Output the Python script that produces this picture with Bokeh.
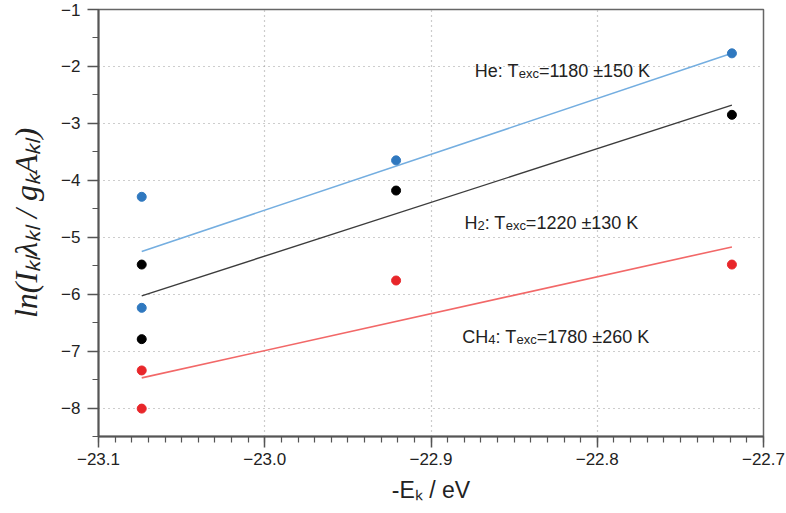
from bokeh.plotting import figure
from bokeh.models import FixedTicker, Label, Range1d
from bokeh.embed import file_html
from bokeh.resources import INLINE

# ---------------- data ----------------
he_x = [-23.074, -23.074, -22.921, -22.719]
he_y = [-4.29, -6.24, -3.65, -1.77]
h2_x = [-23.074, -23.074, -22.921, -22.719]
h2_y = [-5.48, -6.79, -4.18, -2.85]
ch4_x = [-23.074, -23.074, -22.921, -22.719]
ch4_y = [-7.34, -8.01, -5.76, -5.48]

fit_x = [-23.074, -22.719]
he_fit_y = [-5.25, -1.77]
h2_fit_y = [-6.03, -2.68]
ch4_fit_y = [-7.47, -5.17]

x_ticks = [-23.1, -23.0, -22.9, -22.8, -22.7]
x_tick_labels = ["\u221223.1", "\u221223.0", "\u221222.9", "\u221222.8", "\u221222.7"]
y_ticks = [-8, -7, -6, -5, -4, -3, -2, -1]
y_tick_labels = ["\u22128", "\u22127", "\u22126", "\u22125", "\u22124", "\u22123", "\u22122", "\u22121"]

x_title = "-E\u2096 / eV"
y_title = "ln(I\u2096\u2097\u03bb\u2096\u2097 / g\u2096A\u2096\u2097)"

he_label = ["He: T", "exc", "=1180 \u00b1150 K"]
h2_label = ["H", "2", ": T", "exc", "=1220 \u00b1130 K"]
ch4_label = ["CH", "4", ": T", "exc", "=1780 \u00b1260 K"]

# ---------------- font metrics helper (layout only) ----------------
ARIAL = {' ': 278, ':': 278, '=': 584, '\u00b1': 584, 'H': 722, 'C': 722, 'e': 556,
         'T': 611, 'x': 500, 'c': 500, 'K': 667, '.': 278}
for d in "0123456789":
    ARIAL[d] = 556


def width(s, size):
    return sum(ARIAL.get(ch, 556) for ch in s) * size / 1000.0


SANS = "Liberation Sans"
SERIF = "Liberation Serif"
TXT = "#222222"

p = figure(frame_width=665, frame_height=427,
           x_range=Range1d(-23.1, -22.7), y_range=Range1d(-8.5, -1.0),
           output_backend="svg", toolbar_location=None,
           min_border_left=98, min_border_right=23, min_border_top=9, min_border_bottom=77)

p.background_fill_color = "white"
p.border_fill_color = "white"
p.outline_line_color = "#666666"
p.outline_line_width = 1.5

p.xaxis.ticker = FixedTicker(ticks=x_ticks,
                             minor_ticks=[round(-23.1 + 0.01 * i, 3) for i in range(41)])
p.yaxis.ticker = FixedTicker(ticks=y_ticks,
                             minor_ticks=[-8.5 + 0.5 * i for i in range(16)])
p.xaxis.major_label_overrides = dict(zip(x_ticks, x_tick_labels))
p.yaxis.major_label_overrides = dict(zip(y_ticks, y_tick_labels))

for ax in list(p.xaxis) + list(p.yaxis):
    ax.axis_line_color = "#555555"
    ax.axis_line_width = 2
    ax.major_tick_line_color = "#555555"
    ax.major_tick_line_width = 1.5
    ax.major_tick_out = 11
    ax.major_tick_in = 0
    ax.minor_tick_line_color = "#555555"
    ax.minor_tick_line_width = 1.2
    ax.minor_tick_out = 6
    ax.minor_tick_in = 0
    ax.major_label_text_font = SANS
    ax.major_label_text_font_size = "17px"
    ax.major_label_text_color = TXT
p.yaxis.major_label_standoff = 7
p.xaxis.major_label_standoff = 5

p.yaxis.axis_label = y_title
p.yaxis.axis_label_text_font = SERIF
p.yaxis.axis_label_text_font_style = "italic"
p.yaxis.axis_label_text_font_size = "32px"
p.yaxis.axis_label_text_color = TXT
p.yaxis.axis_label_standoff = 14

p.xaxis.axis_label = x_title
p.xaxis.axis_label_text_font = SANS
p.xaxis.axis_label_text_font_style = "normal"
p.xaxis.axis_label_text_font_size = "23px"
p.xaxis.axis_label_text_color = TXT
p.xaxis.axis_label_standoff = 9

p.xgrid.ticker = FixedTicker(ticks=x_ticks)
p.ygrid.ticker = FixedTicker(ticks=y_ticks)
for g in (p.xgrid, p.ygrid):
    g.grid_line_color = "#9a9a9a"
    g.grid_line_dash = "1 4"
    g.grid_line_width = 1.2

# fit lines
p.line(fit_x, he_fit_y, line_color="#74aee0", line_width=1.6)
p.line(fit_x, h2_fit_y, line_color="#3c3c3c", line_width=1.4)
p.line(fit_x, ch4_fit_y, line_color="#f26868", line_width=1.6)

# data points
p.scatter(he_x, he_y, size=9, fill_color="#2f78bf", line_color="#2f78bf")
p.scatter(h2_x, h2_y, size=9, fill_color="#000000", line_color="#000000")
p.scatter(ch4_x, ch4_y, size=9, fill_color="#e8262a", line_color="#e8262a")

# annotations (main 18px, subscripts 13px)
MAIN, SUB = 18, 13


def annotate(x, y, pieces, subs):
    off = 0.0
    for txt, is_sub in zip(pieces, subs):
        size = SUB if is_sub else MAIN
        p.add_layout(Label(x=x, y=y, x_units="data", y_units="data", text=txt,
                           x_offset=off, y_offset=(-3 if is_sub else 0),
                           text_font=SANS, text_font_size=f"{size}px", text_color=TXT,
                           text_align="left", text_baseline="alphabetic"))
        off += width(txt, size)


annotate(-22.8737, -2.075, he_label, [False, True, False])
annotate(-22.8799, -4.742, h2_label, [False, True, False, True, False])
annotate(-22.8812, -6.751, ch4_label, [False, True, False, True, False])

open("out.html", "w").write(file_html(p, INLINE))
